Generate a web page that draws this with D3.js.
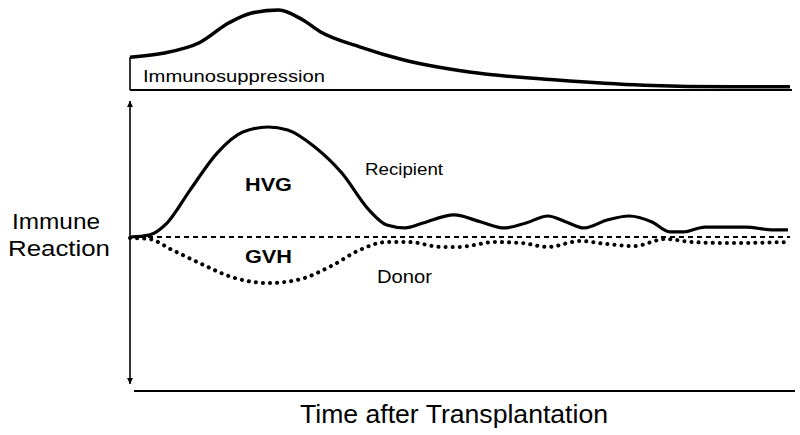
<!DOCTYPE html>
<html>
<head>
<meta charset="utf-8">
<script src="https://cdn.jsdelivr.net/npm/d3@7"></script>
<style>
  body { margin: 0; background: #fff; }
  text { font-family: "Liberation Sans", Arial, Helvetica, sans-serif; fill: #000; }
</style>
</head>
<body>
<div id="chart"></div>
<script>
// time after transplantation (arbitrary units 0..100)
var supTime   = [0, 5, 10.5, 15, 18.3, 22.5, 26.2, 28.9, 34.8, 41.5, 51.4, 64.7, 77.9, 91, 100];
var supLevel  = [41, 46, 59, 84, 96, 100, 87.5, 72.5, 54, 37.5, 22.5, 12.5, 6, 4, 4];

var recTime   = [0, 2.9, 5.6, 9.1, 13.2, 17.1, 20.9, 23.9, 28, 32.1, 36.2, 38.9, 41.7, 44.4, 49.1, 53.2, 56.7, 60, 63.3, 66.1, 68.8, 72.3, 75.6, 79.1, 81.8, 83.8, 87.1, 90.6, 93.3, 97.4, 99.7];
var recValue  = [0, 1.4, 9.7, 32.6, 58.3, 72.9, 76.4, 74.3, 62.5, 44.4, 18.8, 8.3, 6.3, 9.7, 15.3, 10.4, 6.3, 9.7, 14.6, 10.4, 6.3, 11.8, 14.6, 10.4, 3.5, 3.5, 6.9, 6.9, 6.9, 4.9, 4.9];

var donTime   = [0, 2.9, 6.4, 10.5, 15.9, 20.9, 25.3, 30.8, 34.8, 38.9, 42.3, 47.1, 49.8, 55.3, 59.4, 63.3, 68.2, 72.3, 76.4, 81.1, 85.2, 90.6, 99.7];
var donValue  = [-0.7, -1.4, -9, -18, -28.5, -32, -29.9, -19.4, -9, -3.5, -3.5, -6.9, -6.9, -3.5, -4.2, -6.9, -2.8, -4.9, -6.3, -1.4, -3.5, -4.2, -3.5];

var width = 800, height = 435;

var svg = d3.select("#chart").append("svg")
    .attr("width", width)
    .attr("height", height);

//scales
var x = d3.scaleLinear().domain([0, 100]).range([130, 790]);
var ySup = d3.scaleLinear().domain([0, 100]).range([90, 10]);
var y = d3.scaleLinear().domain([-100, 100]).range([381, 93]);

var supData = supTime.map(function(t, i) { return [t, supLevel[i]]; });
var recData = recTime.map(function(t, i) { return [t, recValue[i]]; });
var donData = donTime.map(function(t, i) { return [t, donValue[i]]; });

// immunosuppression panel
var supLine = d3.line()
    .x(function(d) { return x(d[0]); })
    .y(function(d) { return ySup(d[1]); })
    .curve(d3.curveMonotoneX);

svg.append("path")
    .datum(supData)
    .attr("d", supLine)
    .style("fill", "none")
    .style("stroke", "#000")
    .style("stroke-width", 3.5);

svg.append("line")
    .attr("x1", x(0)).attr("x2", x(0))
    .attr("y1", ySup(supLevel[0])).attr("y2", ySup(0))
    .style("stroke", "#000").style("stroke-width", 1.6);

svg.append("line")
    .attr("x1", x(0)).attr("x2", x(100) + 2)
    .attr("y1", ySup(0)).attr("y2", ySup(0))
    .style("stroke", "#000").style("stroke-width", 1.8);

svg.append("text")
    .attr("x", 143).attr("y", 82)
    .attr("font-size", 16)
    .attr("textLength", 182)
    .attr("lengthAdjust", "spacingAndGlyphs")
    .text("Immunosuppression");

// main panel: double arrow
var defs = svg.append("defs");
defs.append("marker")
    .attr("id", "head")
    .attr("viewBox", "0 0 10 10")
    .attr("refX", 10).attr("refY", 5)
    .attr("markerWidth", 6).attr("markerHeight", 10)
    .attr("markerUnits", "userSpaceOnUse")
    .attr("orient", "auto-start-reverse")
    .append("path")
    .attr("d", "M0,0L10,5L0,10Z")
    .style("fill", "#000");

svg.append("line")
    .attr("x1", x(0)).attr("x2", x(0))
    .attr("y1", 101).attr("y2", 384)
    .style("stroke", "#000").style("stroke-width", 1.6)
    .attr("marker-start", "url(#head)")
    .attr("marker-end", "url(#head)");

// time axis
svg.append("line")
    .attr("x1", 134).attr("x2", 795)
    .attr("y1", 391).attr("y2", 391)
    .style("stroke", "#000").style("stroke-width", 2);

// zero level
svg.append("line")
    .attr("x1", x(0)).attr("x2", x(100))
    .attr("y1", y(0)).attr("y2", y(0))
    .style("stroke", "#000").style("stroke-width", 1.8)
    .style("stroke-dasharray", "5,4");

var line = d3.line()
    .x(function(d) { return x(d[0]); })
    .y(function(d) { return y(d[1]); })
    .curve(d3.curveMonotoneX);

svg.append("path")
    .datum(recData)
    .attr("d", line)
    .style("fill", "none")
    .style("stroke", "#000")
    .style("stroke-width", 3.2);

svg.append("path")
    .datum(donData)
    .attr("d", line)
    .style("fill", "none")
    .style("stroke", "#000")
    .style("stroke-width", 4)
    .style("stroke-linecap", "round")
    .style("stroke-dasharray", "0.1,7");

// labels
svg.append("text")
    .attr("x", 245).attr("y", 191)
    .attr("font-size", 19).attr("font-weight", "bold")
    .attr("textLength", 47).attr("lengthAdjust", "spacingAndGlyphs")
    .text("HVG");

svg.append("text")
    .attr("x", 245).attr("y", 263)
    .attr("font-size", 19).attr("font-weight", "bold")
    .attr("textLength", 47).attr("lengthAdjust", "spacingAndGlyphs")
    .text("GVH");

svg.append("text")
    .attr("x", 365).attr("y", 175)
    .attr("font-size", 17)
    .attr("textLength", 78).attr("lengthAdjust", "spacingAndGlyphs")
    .text("Recipient");

svg.append("text")
    .attr("x", 377).attr("y", 283)
    .attr("font-size", 18)
    .attr("textLength", 55).attr("lengthAdjust", "spacingAndGlyphs")
    .text("Donor");

svg.append("text")
    .attr("x", 56).attr("y", 229)
    .attr("text-anchor", "middle")
    .attr("font-size", 22)
    .attr("textLength", 88).attr("lengthAdjust", "spacingAndGlyphs")
    .text("Immune");

svg.append("text")
    .attr("x", 59).attr("y", 256)
    .attr("text-anchor", "middle")
    .attr("font-size", 22)
    .attr("textLength", 102).attr("lengthAdjust", "spacingAndGlyphs")
    .text("Reaction");

svg.append("text")
    .attr("x", 300).attr("y", 423)
    .attr("font-size", 26)
    .attr("textLength", 308).attr("lengthAdjust", "spacingAndGlyphs")
    .text("Time after Transplantation");
</script>
</body>
</html>
